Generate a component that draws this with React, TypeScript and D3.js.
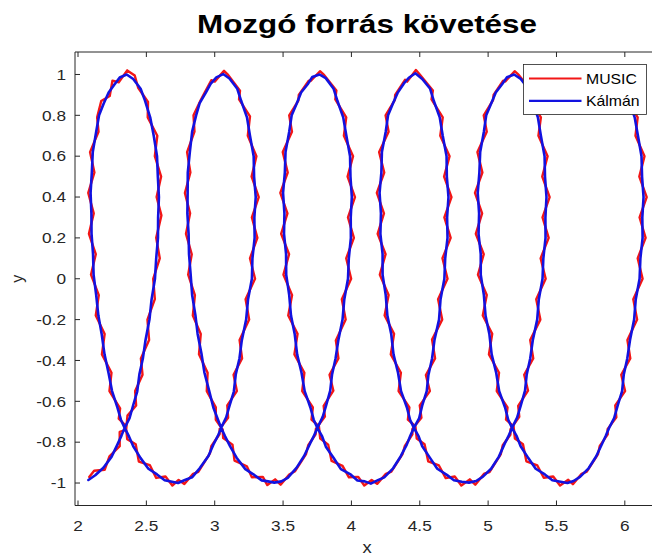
import React, { useEffect } from "react";
import * as d3 from "d3";

type P = [number, number];

// MUSIC estimates (red)
const music: P[] = [
  [2.082,-0.97],[2.118,-0.94],[2.195,-0.935],[2.23,-0.87],[2.305,-0.82],[2.305,-0.75],[2.352,-0.74],[2.362,-0.67],[2.425,-0.62],[2.418,-0.55],[2.472,-0.47],[2.46,-0.39],[2.52,-0.3],[2.508,-0.2],[2.562,-0.1],[2.55,0.0],[2.598,0.1],[2.572,0.2],[2.61,0.31],[2.575,0.4],[2.608,0.5],[2.562,0.6],[2.58,0.7],[2.51,0.79],[2.512,0.865],[2.44,0.935],[2.415,0.995],[2.36,1.02],[2.298,0.962],[2.252,0.97],[2.232,0.895],[2.17,0.87],[2.14,0.79],[2.15,0.72],[2.088,0.62],[2.12,0.52],[2.075,0.42],[2.115,0.32],[2.08,0.22],[2.13,0.12],[2.095,0.02],[2.152,-0.08],[2.13,-0.18],[2.195,-0.27],[2.175,-0.37],[2.245,-0.46],[2.23,-0.55],[2.308,-0.635],[2.298,-0.685],[2.35,-0.72],[2.36,-0.785],[2.422,-0.81],[2.445,-0.895],[2.525,-0.912],[2.572,-0.975],[2.64,-0.968],[2.69,-1.012],
  [2.736,-0.985],[2.778,-1.005],[2.842,-0.955],[2.88,-0.945],[2.965,-0.855],[2.975,-0.82],[3.036,-0.76],[3.036,-0.735],[3.098,-0.68],[3.092,-0.62],[3.162,-0.55],[3.138,-0.47],[3.2,-0.39],[3.182,-0.3],[3.252,-0.2],[3.226,-0.1],[3.295,0.0],[3.258,0.1],[3.312,0.2],[3.272,0.3],[3.322,0.4],[3.27,0.5],[3.305,0.6],[3.242,0.7],[3.258,0.795],[3.178,0.878],[3.185,0.92],[3.098,0.998],[3.068,1.018],[3.0,0.965],[2.975,0.972],[2.918,0.9],[2.898,0.875],[2.845,0.8],[2.852,0.72],[2.798,0.62],[2.822,0.52],[2.782,0.42],[2.82,0.32],[2.79,0.22],[2.832,0.12],[2.806,0.02],[2.855,-0.08],[2.84,-0.18],[2.898,-0.27],[2.885,-0.37],[2.948,-0.46],[2.942,-0.55],[3.008,-0.63],[3.008,-0.69],[3.058,-0.738],[3.062,-0.78],[3.13,-0.812],[3.145,-0.89],[3.235,-0.918],[3.272,-0.972],[3.352,-0.97],[3.385,-1.01],
  [3.442,-0.982],[3.482,-1.008],[3.545,-0.958],[3.588,-0.942],[3.668,-0.858],[3.684,-0.815],[3.738,-0.762],[3.74,-0.735],[3.806,-0.675],[3.797,-0.622],[3.868,-0.548],[3.84,-0.47],[3.905,-0.39],[3.886,-0.302],[3.958,-0.2],[3.93,-0.1],[3.998,0.0],[3.962,0.1],[4.018,0.2],[3.975,0.3],[4.026,0.4],[3.972,0.5],[4.012,0.6],[3.945,0.7],[3.962,0.79],[3.882,0.878],[3.89,0.922],[3.8,0.998],[3.77,1.016],[3.702,0.968],[3.688,0.97],[3.615,0.9],[3.612,0.872],[3.545,0.8],[3.565,0.72],[3.498,0.62],[3.534,0.52],[3.48,0.42],[3.532,0.32],[3.486,0.22],[3.544,0.12],[3.503,0.02],[3.566,-0.08],[3.538,-0.18],[3.606,-0.27],[3.583,-0.37],[3.656,-0.46],[3.64,-0.55],[3.718,-0.63],[3.708,-0.69],[3.762,-0.722],[3.772,-0.782],[3.83,-0.812],[3.855,-0.892],[3.935,-0.916],[3.982,-0.972],[4.05,-0.97],[4.094,-1.012],
  [4.148,-0.985],[4.188,-1.004],[4.252,-0.955],[4.292,-0.944],[4.374,-0.858],[4.39,-0.82],[4.446,-0.762],[4.446,-0.736],[4.512,-0.68],[4.5,-0.62],[4.574,-0.55],[4.545,-0.472],[4.612,-0.39],[4.59,-0.298],[4.664,-0.2],[4.634,-0.1],[4.703,0.0],[4.666,0.1],[4.726,0.2],[4.68,0.3],[4.732,0.4],[4.678,0.5],[4.718,0.6],[4.65,0.7],[4.668,0.79],[4.586,0.878],[4.596,0.922],[4.506,0.995],[4.472,1.022],[4.408,0.965],[4.392,0.974],[4.32,0.9],[4.318,0.876],[4.25,0.8],[4.272,0.72],[4.203,0.62],[4.24,0.52],[4.186,0.42],[4.238,0.32],[4.192,0.22],[4.25,0.12],[4.208,0.02],[4.272,-0.08],[4.243,-0.18],[4.312,-0.27],[4.288,-0.37],[4.362,-0.46],[4.345,-0.55],[4.424,-0.63],[4.413,-0.69],[4.468,-0.722],[4.478,-0.782],[4.535,-0.81],[4.562,-0.894],[4.64,-0.914],[4.69,-0.976],[4.756,-0.968],[4.804,-1.012],
  [4.866,-0.982],[4.906,-1.008],[4.972,-0.954],[5.01,-0.946],[5.092,-0.86],[5.107,-0.815],[5.163,-0.764],[5.164,-0.736],[5.228,-0.676],[5.22,-0.622],[5.292,-0.548],[5.264,-0.47],[5.33,-0.39],[5.308,-0.3],[5.382,-0.2],[5.352,-0.1],[5.421,0.0],[5.384,0.1],[5.443,0.2],[5.398,0.3],[5.45,0.4],[5.396,0.5],[5.435,0.6],[5.368,0.7],[5.386,0.79],[5.305,0.878],[5.314,0.922],[5.224,0.998],[5.194,1.016],[5.126,0.966],[5.11,0.97],[5.04,0.9],[5.036,0.875],[4.968,0.8],[4.99,0.72],[4.922,0.62],[4.958,0.52],[4.904,0.42],[4.956,0.32],[4.91,0.22],[4.968,0.12],[4.926,0.02],[4.99,-0.08],[4.961,-0.18],[5.03,-0.27],[5.006,-0.37],[5.08,-0.46],[5.063,-0.55],[5.142,-0.63],[5.131,-0.69],[5.186,-0.722],[5.196,-0.782],[5.255,-0.81],[5.28,-0.894],[5.36,-0.914],[5.407,-0.974],[5.476,-0.968],[5.526,-1.012],[5.586,-0.984],
  [5.62,-1.006],[5.684,-0.955],[5.722,-0.944],[5.804,-0.858],[5.817,-0.818],[5.875,-0.762],[5.874,-0.736],[5.938,-0.678],[5.93,-0.62],[6.002,-0.55],[5.974,-0.47],[6.04,-0.39],[6.019,-0.3],[6.09,-0.2],[6.062,-0.1],[6.13,0.0],[6.094,0.1],[6.152,0.2],[6.108,0.3],[6.16,0.4],[6.106,0.5],[6.144,0.6],[6.078,0.7],[6.094,0.79],[6.012,0.878],[6.02,0.922],[5.94,0.996],
];

// Kalman-filtered track (blue)
const kalman: P[] = [
  [2.076,-0.985],[2.126,-0.962],[2.186,-0.925],[2.245,-0.872],[2.288,-0.812],[2.318,-0.768],[2.341,-0.73],[2.377,-0.683],[2.404,-0.618],[2.433,-0.552],[2.449,-0.468],[2.474,-0.392],[2.494,-0.3],[2.523,-0.198],[2.538,-0.102],[2.563,0.0],[2.572,0.1],[2.585,0.2],[2.586,0.3],[2.592,0.4],[2.584,0.5],[2.578,0.6],[2.554,0.7],[2.528,0.79],[2.49,0.872],[2.458,0.93],[2.404,0.978],[2.356,1.0],[2.305,0.985],[2.268,0.952],[2.224,0.912],[2.188,0.858],[2.154,0.8],[2.133,0.72],[2.108,0.62],[2.101,0.52],[2.092,0.42],[2.098,0.32],[2.099,0.22],[2.11,0.12],[2.114,0.02],[2.133,-0.08],[2.149,-0.18],[2.173,-0.27],[2.194,-0.37],[2.223,-0.46],[2.249,-0.55],[2.288,-0.63],[2.314,-0.69],[2.341,-0.73],[2.373,-0.772],[2.404,-0.82],[2.458,-0.878],[2.515,-0.93],[2.578,-0.958],[2.634,-0.986],[2.688,-0.994],
  [2.732,-1.0],[2.782,-0.985],[2.834,-0.972],[2.89,-0.928],[2.954,-0.868],[2.99,-0.812],[3.024,-0.768],[3.047,-0.73],[3.084,-0.678],[3.109,-0.62],[3.14,-0.552],[3.154,-0.468],[3.181,-0.39],[3.198,-0.302],[3.23,-0.2],[3.244,-0.1],[3.272,0.0],[3.276,0.1],[3.292,0.2],[3.29,0.3],[3.3,0.4],[3.288,0.5],[3.285,0.6],[3.258,0.7],[3.236,0.79],[3.194,0.87],[3.165,0.93],[3.108,0.98],[3.062,1.002],[3.012,0.986],[2.97,0.954],[2.934,0.91],[2.89,0.86],[2.864,0.8],[2.835,0.72],[2.818,0.62],[2.803,0.52],[2.802,0.42],[2.8,0.32],[2.809,0.22],[2.812,0.12],[2.824,0.02],[2.835,-0.08],[2.859,-0.18],[2.875,-0.27],[2.904,-0.37],[2.925,-0.46],[2.96,-0.55],[2.99,-0.63],[3.024,-0.69],[3.047,-0.73],[3.075,-0.77],[3.114,-0.822],[3.16,-0.876],[3.224,-0.932],[3.28,-0.956],[3.344,-0.987],[3.39,-0.992],
  [3.436,-0.998],[3.488,-0.992],[3.534,-0.975],[3.598,-0.926],[3.654,-0.868],[3.698,-0.806],[3.724,-0.772],[3.751,-0.73],[3.79,-0.676],[3.814,-0.622],[3.845,-0.548],[3.858,-0.47],[3.884,-0.39],[3.904,-0.302],[3.935,-0.2],[3.948,-0.1],[3.975,0.0],[3.981,0.1],[3.996,0.2],[3.995,0.3],[4.003,0.4],[3.993,0.5],[3.99,0.6],[3.963,0.7],[3.94,0.79],[3.898,0.87],[3.87,0.93],[3.812,0.982],[3.766,1.0],[3.714,0.988],[3.68,0.952],[3.632,0.912],[3.6,0.858],[3.563,0.8],[3.545,0.72],[3.518,0.62],[3.513,0.52],[3.5,0.42],[3.51,0.32],[3.507,0.22],[3.522,0.12],[3.523,0.02],[3.545,-0.08],[3.558,-0.18],[3.585,-0.27],[3.603,-0.37],[3.635,-0.46],[3.658,-0.55],[3.7,-0.63],[3.724,-0.69],[3.751,-0.73],[3.786,-0.772],[3.813,-0.822],[3.869,-0.876],[3.923,-0.932],[3.99,-0.956],[4.044,-0.988],[4.098,-0.992],
  [4.142,-1.003],[4.194,-0.986],[4.24,-0.972],[4.305,-0.928],[4.36,-0.87],[4.405,-0.812],[4.43,-0.77],[4.457,-0.73],[4.495,-0.684],[4.518,-0.62],[4.551,-0.55],[4.563,-0.472],[4.59,-0.39],[4.608,-0.298],[4.641,-0.2],[4.652,-0.1],[4.68,0.0],[4.686,0.1],[4.703,0.2],[4.7,0.3],[4.71,0.4],[4.698,0.5],[4.696,0.6],[4.668,0.7],[4.646,0.79],[4.603,0.87],[4.576,0.93],[4.518,0.978],[4.468,1.006],[4.42,0.984],[4.384,0.956],[4.338,0.91],[4.306,0.862],[4.268,0.8],[4.251,0.72],[4.223,0.62],[4.219,0.52],[4.206,0.42],[4.216,0.32],[4.212,0.22],[4.228,0.12],[4.228,0.02],[4.251,-0.08],[4.263,-0.18],[4.291,-0.27],[4.308,-0.37],[4.341,-0.46],[4.363,-0.55],[4.406,-0.63],[4.429,-0.69],[4.457,-0.73],[4.492,-0.772],[4.518,-0.82],[4.576,-0.878],[4.628,-0.93],[4.698,-0.96],[4.75,-0.986],[4.808,-0.994],
  [4.86,-0.998],[4.912,-0.99],[4.96,-0.97],[5.022,-0.93],[5.078,-0.872],[5.122,-0.806],[5.148,-0.772],[5.175,-0.73],[5.212,-0.68],[5.238,-0.622],[5.27,-0.548],[5.282,-0.47],[5.308,-0.39],[5.327,-0.3],[5.359,-0.2],[5.371,-0.1],[5.398,0.0],[5.404,0.1],[5.42,0.2],[5.419,0.3],[5.427,0.4],[5.416,0.5],[5.413,0.6],[5.386,0.7],[5.364,0.79],[5.322,0.87],[5.294,0.93],[5.236,0.98],[5.19,1.0],[5.138,0.986],[5.102,0.952],[5.056,0.912],[5.024,0.86],[4.986,0.8],[4.969,0.72],[4.942,0.62],[4.936,0.52],[4.924,0.42],[4.934,0.32],[4.93,0.22],[4.946,0.12],[4.946,0.02],[4.969,-0.08],[4.981,-0.18],[5.009,-0.27],[5.026,-0.37],[5.059,-0.46],[5.081,-0.55],[5.124,-0.63],[5.147,-0.69],[5.175,-0.73],[5.21,-0.772],[5.238,-0.82],[5.294,-0.878],[5.348,-0.93],[5.415,-0.958],[5.47,-0.986],[5.53,-0.994],[5.58,-1.0],
  [5.625,-0.99],[5.672,-0.97],[5.735,-0.928],[5.79,-0.87],[5.832,-0.81],[5.86,-0.77],[5.885,-0.73],[5.922,-0.682],[5.948,-0.62],[5.98,-0.55],[5.992,-0.47],[6.018,-0.39],[6.038,-0.3],[6.068,-0.2],[6.08,-0.1],[6.108,0.0],[6.114,0.1],[6.13,0.2],[6.128,0.3],[6.137,0.4],[6.126,0.5],[6.122,0.6],[6.096,0.7],[6.072,0.79],[6.03,0.87],[6.0,0.93],[5.95,0.98],
];

const xTicks = [2, 2.5, 3, 3.5, 4, 4.5, 5, 5.5, 6];
const yTicks = [-1, -0.8, -0.6, -0.4, -0.2, 0, 0.2, 0.4, 0.6, 0.8, 1];
const xDomain: [number, number] = [1.978, 6.25];
const yDomain: [number, number] = [-1.11, 1.11];
const titleText = "Mozgó forrás követése";
const xLabelText = "x";
const yLabelText = "y";
const seriesNames = ["MUSIC", "Kálmán"];
const seriesColors = ["#f21616", "#1212e0"];

const FONT = "'Liberation Sans', Arial, Helvetica, sans-serif";
const AX = "#262626";

function SText(props: {
  x: number; y: number; size: number; sx?: number; anchor?: string;
  weight?: string | number; fill?: string; children: React.ReactNode;
}) {
  const { x, y, size, sx = 1, anchor = "start", weight = "normal", fill = AX, children } = props;
  return (
    <text
      transform={`translate(${x},${y}) scale(${sx},1)`}
      fontSize={size}
      fontFamily={FONT}
      fontWeight={weight}
      textAnchor={anchor}
      fill={fill}
    >
      {children}
    </text>
  );
}

export default function App() {
  useEffect(() => {
    document.body.style.margin = "0";
  }, []);

  const W = 652, H = 558;
  const left = 75, right = 659, top = 52, bottom = 505.5;
  const x = d3.scaleLinear().domain(xDomain).range([left, right]);
  const y = d3.scaleLinear().domain(yDomain).range([bottom, top]);
  const line = d3.line<P>().x((d) => x(d[0])).y((d) => y(d[1]));
  const tickLen = 5;
  const tsx = 1.15;

  const lgX = 523.5, lgY = 64.5, lgW = 123, lgH = 50;

  return (
    <div style={{ position: "fixed", left: 0, top: 0 }}>
      <svg width={W} height={H} style={{ display: "block", background: "#fff" }}>
        <defs>
          <clipPath id="plotclip">
            <rect x={left} y={top} width={right - left} height={bottom - top} />
          </clipPath>
        </defs>
        <rect x={0} y={0} width={W} height={H} fill="#fff" />

        {/* data */}
        <g clipPath="url(#plotclip)" fill="none" strokeLinejoin="round" strokeLinecap="round">
          <path d={line(music) || ""} stroke={seriesColors[0]} strokeWidth={2.4} />
          <path d={line(kalman) || ""} stroke={seriesColors[1]} strokeWidth={2.6} />
        </g>

        {/* axes lines */}
        <g stroke={AX} strokeWidth={1} fill="none">
          <line x1={left} y1={top} x2={right} y2={top} />
          <line x1={left} y1={bottom} x2={right} y2={bottom} />
          <line x1={left} y1={top} x2={left} y2={bottom} />
          {xTicks.map((t) => (
            <g key={"xt" + t}>
              <line x1={x(t)} x2={x(t)} y1={bottom} y2={bottom - tickLen} />
              <line x1={x(t)} x2={x(t)} y1={top} y2={top + tickLen} />
            </g>
          ))}
          {yTicks.map((t) => (
            <g key={"yt" + t}>
              <line x1={left} x2={left + tickLen} y1={y(t)} y2={y(t)} />
            </g>
          ))}
        </g>

        {/* tick labels */}
        {xTicks.map((t) => (
          <SText key={"xl" + t} x={x(t)} y={531} size={15} sx={tsx} anchor="middle">
            {String(t)}
          </SText>
        ))}
        {yTicks.map((t) => (
          <SText key={"yl" + t} x={66} y={y(t) + 5.3} size={15} sx={tsx} anchor="end">
            {String(t)}
          </SText>
        ))}

        {/* axis labels */}
        <SText x={(left + right) / 2} y={553} size={16} sx={tsx} anchor="middle">
          {xLabelText}
        </SText>
        <text
          transform={`translate(23,${(top + bottom) / 2}) rotate(-90)`}
          fontSize={16}
          fontFamily={FONT}
          textAnchor="middle"
          fill={AX}
        >
          {yLabelText}
        </text>

        {/* title */}
        <SText x={(left + right) / 2} y={32.5} size={25.5} sx={1.23} anchor="middle" weight="bold" fill="#000">
          {titleText}
        </SText>

        {/* legend */}
        <rect x={lgX} y={lgY} width={lgW} height={lgH} fill="#fff" stroke={AX} strokeWidth={0.8} />
        {seriesNames.map((name, i) => {
          const ly = lgY + 14 + i * 22.3;
          return (
            <g key={name}>
              <line x1={lgX + 5.5} x2={lgX + 58} y1={ly} y2={ly} stroke={seriesColors[i]} strokeWidth={2.2} />
              <SText x={lgX + 62.5} y={ly + 5} size={14} sx={1.13} fill="#000">
                {name}
              </SText>
            </g>
          );
        })}
      </svg>
    </div>
  );
}
